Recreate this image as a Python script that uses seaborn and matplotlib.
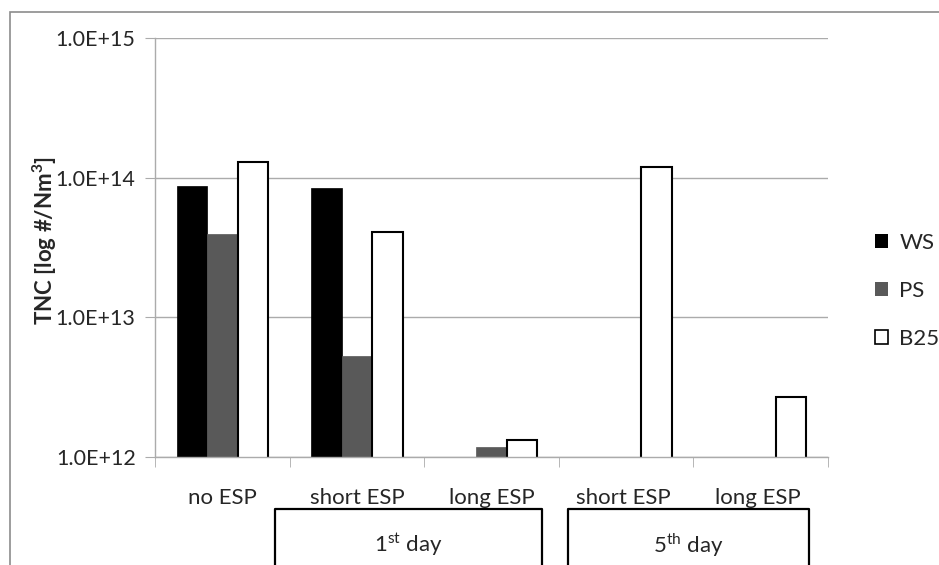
import numpy as np
import pandas as pd
import matplotlib
matplotlib.use("Agg")
import matplotlib.pyplot as plt
import seaborn as sns
from matplotlib.patches import Patch, Rectangle
from matplotlib.ticker import FixedLocator, FuncFormatter

# values (TNC, #/Nm3); NaN = no bar
categories = ["no ESP", "short ESP", "long ESP", "short ESP ", "long ESP "]
ws = [8.7e13, 8.4e13, np.nan, np.nan, np.nan]
ps = [3.95e13, 5.3e12, 1.17e12, np.nan, np.nan]
b25 = [1.3e14, 4.1e13, 1.32e12, 1.19e14, 2.7e12]
series = ["WS", "PS", "B25"]
fills = ["#000000", "#595959", "#ffffff"]
edges = ["#000000", "#595959", "#000000"]
groups = [r"1$^{\mathrm{st}}$ day", r"5$^{\mathrm{th}}$ day"]

df = pd.DataFrame({"cat": categories * 3,
                   "val": ws + ps + b25,
                   "series": np.repeat(series, len(categories))})

sns.set_style("white")
plt.rcParams["font.family"] = ["Lato", "DejaVu Sans"]
plt.rcParams["mathtext.fontset"] = "custom"
plt.rcParams["mathtext.rm"] = "Lato"
plt.rcParams["mathtext.bf"] = "Lato:bold"

fig = plt.figure(figsize=(9.39, 5.65), dpi=100)
ax = fig.add_axes([155/939, 1-457/565, (828-155)/939, (457-38)/565])

sns.barplot(data=df, x="cat", y="val", hue="series", palette=fills,
            width=0.68, gap=0, ax=ax, legend=False, saturation=1)
for cont, ec in zip(ax.containers, edges):
    for p in cont:
        p.set_edgecolor(ec)
        p.set_linewidth(1.5 if ec == "#000000" and p.get_facecolor()[0] > 0.5 else 0.5)

ax.set_yscale("log")
ax.set_ylim(1e12, 1e15)
ax.set_xlim(-0.5, 4.5)
ax.yaxis.set_major_locator(FixedLocator([1e12, 1e13, 1e14, 1e15]))
ax.yaxis.set_minor_locator(FixedLocator([]))
ax.yaxis.set_major_formatter(FuncFormatter(lambda v, p: "%.1fE+%d" % (v / 10**int(round(np.log10(v))), int(round(np.log10(v))))))
ax.grid(axis="y", color="#ababab", linewidth=1)
ax.set_axisbelow(True)
for s in ["top", "right"]:
    ax.spines[s].set_visible(False)
for s in ["left", "bottom"]:
    ax.spines[s].set_color("#ababab")
    ax.spines[s].set_linewidth(1)
ax.tick_params(axis="y", which="major", length=7, color="#ababab", labelsize=15.5, pad=7, left=True)
ax.tick_params(axis="x", which="major", length=0, labelsize=16, pad=22)
ax.set_xticks(np.arange(-0.5, 5, 1), minor=True)
ax.tick_params(axis="x", which="minor", length=7, color="#ababab", bottom=True)
ax.set_xlabel("")
ax.set_ylabel("")

fig.text(45/939, 1-240/565, r"TNC [log #/Nm$^{\mathbf{3}}$]", rotation=90, ha="center",
         va="center", fontsize=16, fontweight="bold")

# group boxes below the category labels
trans = ax.get_xaxis_transform()
for (x0, x1), g in zip([(0.39, 2.375), (2.568, 4.36)], groups):
    ax.plot([x0, x0, x1, x1], [-0.4, -0.125, -0.125, -0.4], color="black",
            linewidth=1.6, transform=trans, clip_on=False)
    ax.text((x0 + x1) / 2, -0.21, g, transform=trans, ha="center", va="center",
            fontsize=16)

handles = [Patch(facecolor=f, edgecolor="black", linewidth=1.2 if f == "#ffffff" else 0) for f in fills]
fig.legend(handles, series, loc="upper left", bbox_to_anchor=(855/939, 1-213/565),
           frameon=False, fontsize=16, handlelength=0.6, handleheight=0.6,
           handletextpad=0.5, labelspacing=1.25)

# outer chart frame
fig.patches.append(Rectangle((10/939, -0.1), 1.2, 1-12/565+0.1, transform=fig.transFigure,
                             fill=False, edgecolor="#8c8c8c", linewidth=1.2))

fig.savefig("out.png", dpi=100)
